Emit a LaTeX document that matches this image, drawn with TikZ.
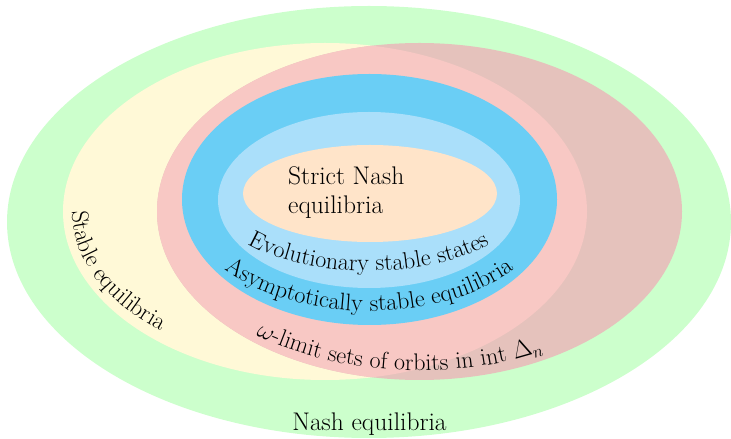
\documentclass[tikz,border=0pt]{standalone}
\usetikzlibrary{decorations.text}
\definecolor{nashgreen}{HTML}{CCFFCC}
\definecolor{stableyellow}{HTML}{FFF9D7}
\definecolor{omegapink}{HTML}{F8C8C4}
\definecolor{omegabrown}{HTML}{E5C2BC}
\definecolor{asblue}{HTML}{6ACEF5}
\definecolor{esslight}{HTML}{AADFFA}
\definecolor{strictpeach}{HTML}{FFE4C9}
\newcommand\bigfont{\fontsize{25.5}{29}\selectfont}
\newcommand\arcfont{\fontsize{24}{29}\selectfont}
\newcommand\omegasym{\ensuremath{\omega}}
\newcommand\deltan{\ensuremath{\Delta_n}}
\begin{document}
\begin{tikzpicture}[x=1pt,y=1pt,
  curvedlabel/.style 2 args={decorate, decoration={text along path, text align=#1, text={|\arcfont|#2}}},
  plainlabel/.style={inner sep=0pt, font=\bigfont}]
\useasboundingbox (0,0) rectangle (731,439);
% Nash equilibria
\fill[nashgreen] (369,217) ellipse [x radius=362pt, y radius=216pt];
% Stable equilibria
\fill[stableyellow] (325,227.5) ellipse [x radius=262pt, y radius=168.5pt];
% omega-limit sets
\fill[omegabrown] (419.5,227.5) ellipse [x radius=262.5pt, y radius=168.5pt];
\begin{scope}
  \clip (325,227.5) ellipse [x radius=262pt, y radius=168.5pt];
  \fill[omegapink] (419.5,227.5) ellipse [x radius=262.5pt, y radius=168.5pt];
\end{scope}
% asymptotically stable
\fill[asblue] (369.5,239.5) ellipse [x radius=187.5pt, y radius=125.5pt];
% ESS
\fill[esslight] (369,239) ellipse [x radius=151pt, y radius=88pt];
% strict Nash
\fill[strictpeach] (370,245.5) ellipse [x radius=127pt, y radius=48.5pt];

\node[plainlabel, anchor=base west, align=left] (strict) at (288,225) {Strict Nash\\equilibria};
\node[plainlabel, anchor=base] (nash) at (369.5,8) {Nash equilibria};

\begin{scope}[shift={(369,239)}]
  \path[curvedlabel={center}{Evolutionary stable states}]
    (180:154pt and 71pt) arc[start angle=180, end angle=360, x radius=154pt, y radius=71pt];
\end{scope}
\begin{scope}[shift={(369.5,239.5)}]
  \path[curvedlabel={center}{Asymptotically stable equilibria}]
    (180:186pt and 111.5pt) arc[start angle=180, end angle=360, x radius=186pt, y radius=111.5pt];
\end{scope}
\begin{scope}[shift={(419.5,227.5)}]
  \path[curvedlabel={left}{{\omegasym}-limit sets of orbits in int {\deltan}}]
    (231:260pt and 159pt) arc[start angle=231, end angle=350, x radius=260pt, y radius=159pt];
\end{scope}
\begin{scope}[shift={(325,227.5)}]
  \path[curvedlabel={left}{Stable equilibria}]
    (180:253pt and 157pt) arc[start angle=180, end angle=265, x radius=253pt, y radius=157pt];
\end{scope}
\end{tikzpicture}
\end{document}
